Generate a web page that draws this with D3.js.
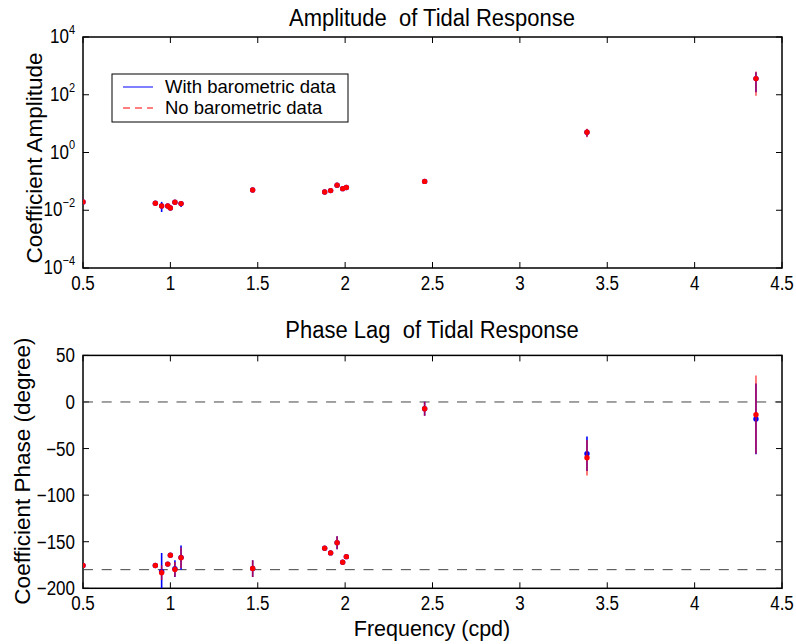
<!DOCTYPE html>
<html>
<head>
<meta charset="utf-8">
<script src="https://cdn.jsdelivr.net/npm/d3@7"></script>
<style>
body{margin:0;background:#fff;}
text{font-family:"Liberation Sans",Arial,sans-serif;fill:#000;white-space:pre;}
</style>
</head>
<body>
<script>

// data
var freq=[0.5,0.914,0.95,0.985,1.0,1.026,1.061,1.471,1.883,1.917,1.954,1.986,2.007,2.455,3.384,4.351];

var ampWith=[0.0195,0.0174,0.0141,0.0141,0.012,0.019,0.017,0.050,0.043,0.048,0.074,0.056,0.061,0.10,5.0,363];
var ampNo=[0.0195,0.0174,0.0141,0.0141,0.012,0.019,0.017,0.050,0.043,0.048,0.074,0.056,0.061,0.10,5.0,363];
var ampErrWith=[0.001,0.001,0.0054,0.001,0.001,0.001,0.004,0.002,0.002,0.002,0.003,0.002,0.002,0.004,1.4,240];
var ampErrNo=[0.001,0.001,0.002,0.001,0.001,0.001,0.002,0.002,0.002,0.002,0.003,0.002,0.002,0.004,1.6,270];

var phaseWith=[-175.4,-175.6,-182,-174,-164.6,-179,-167,-178.8,-157,-162,-151,-172,-166,-7.2,-55.5,-18.2];
var phaseNo=[-175.4,-175.6,-183.2,-174,-164.6,-179.7,-167.1,-178.8,-157,-162,-151,-172,-166,-7.2,-59.8,-13.6];
var phaseErrWith=[1.5,1.5,20,1.5,1.5,9,13,9,1.5,1.5,7,1.5,1.5,7.5,18.5,38];
var phaseErrNo=[1.5,1.5,8,1.5,1.5,8,11,9,1.5,1.5,7,1.5,1.5,7.5,19,42];

var xTicks=[0.5,1,1.5,2,2.5,3,3.5,4,4.5];
var ampTickExp=[-4,-2,0,2,4];
var phaseTicks=[-200,-150,-100,-50,0,50];
var refLines=[0,-180];

var legendItems=[{label:"With barometric data",color:"#0000ff",dash:null},
                 {label:"No barometric data",color:"#ff0000",dash:"7,5"}];

var W=796,H=644;
var left=83,right=782;

var svg=d3.select("body").append("svg").attr("width",W).attr("height",H);

var x=d3.scaleLinear().domain([0.5,4.5]).range([left,right]);
var yAmp=d3.scaleLog().domain([1e-4,1e4]).range([268,37]);
var yPh=d3.scaleLinear().domain([-200,50]).range([588.3,355.4]);

// text is narrow and tall in the original: font-size sets width, sy stretches it
var TICK=17,TICK_SY=1.15;

function label(g,px,py,str,size,sy,anchor,rot){
	return g.append("text")
		.attr("transform","translate("+px+","+py+")"+(rot?" rotate("+rot+")":"")+" scale(1,"+sy+")")
		.attr("text-anchor",anchor).style("font-size",size+"px").text(str);
}

function clip(id,y0,y1){
	svg.append("clipPath").attr("id",id).append("rect")
		.attr("x",left).attr("y",y0).attr("width",right-left).attr("height",y1-y0);
}
clip("cA",37,268);
clip("cP",355.4,588.3);

var tickLen=6;

function frame(yTop,yBot){
	var g=svg.append("g");
	xTicks.forEach(function(t){
		g.append("line").attr("x1",x(t)).attr("x2",x(t)).attr("y1",yBot).attr("y2",yBot-tickLen)
			.attr("stroke","#000");
		g.append("line").attr("x1",x(t)).attr("x2",x(t)).attr("y1",yTop).attr("y2",yTop+tickLen)
			.attr("stroke","#000");
		label(g,x(t),yBot+22,String(t),TICK,TICK_SY,"middle");
	});
	g.append("rect").attr("x",left).attr("y",yTop).attr("width",right-left).attr("height",yBot-yTop)
		.attr("fill","none").attr("stroke","#000").attr("stroke-width",1.5);
	return g;
}

// ---------- top: amplitude ----------
var gA=frame(37,268);
ampTickExp.forEach(function(e){
	var yy=yAmp(Math.pow(10,e));
	gA.append("line").attr("x1",left).attr("x2",left+tickLen).attr("y1",yy).attr("y2",yy).attr("stroke","#000");
	gA.append("line").attr("x1",right).attr("x2",right-tickLen).attr("y1",yy).attr("y2",yy).attr("stroke","#000");
	var t=gA.append("text")
		.attr("transform","translate(75,"+(yy+6)+") scale(1,"+TICK_SY+")")
		.attr("text-anchor","end").style("font-size",TICK+"px");
	t.append("tspan").text("10");
	t.append("tspan").attr("dy",-8).style("font-size","11px").text(e<0?"\u2212"+(-e):e);
});
label(svg,432,26,"Amplitude  of Tidal Response",22,1.1,"middle");
label(svg,42,158,"Coefficient Amplitude",22.5,1,"middle",-90);

function errSeries(g,ys,vals,errs,color,clipId,r,op,logScale){
	var s=g.append("g").attr("clip-path","url(#"+clipId+")");
	freq.forEach(function(f,i){
		var lo=vals[i]-errs[i],hi=vals[i]+errs[i];
		if(logScale && lo<=0) lo=vals[i]*0.5;
		s.append("line").attr("x1",x(f)).attr("x2",x(f)).attr("y1",ys(lo)).attr("y2",ys(hi))
			.attr("stroke",color).attr("stroke-width",1.6).attr("stroke-opacity",op);
	});
	s.selectAll("circle.d").data(freq).enter().append("circle")
		.attr("cx",function(d){return x(d);})
		.attr("cy",function(d,i){return ys(vals[i]);})
		.attr("r",r).attr("fill",color);
}

errSeries(svg,yAmp,ampWith,ampErrWith,"#0000ff","cA",2.7,1,true);
errSeries(svg,yAmp,ampNo,ampErrNo,"#ff0000","cA",2.7,0.65,true);

// legend
var lg=svg.append("g");
lg.append("rect").attr("x",112).attr("y",74).attr("width",236).attr("height",48)
	.attr("fill","#fff").attr("stroke","#000").attr("stroke-width",1);
legendItems.forEach(function(it,i){
	var yy=87+i*21;
	lg.append("line").attr("x1",123).attr("x2",153).attr("y1",yy).attr("y2",yy)
		.attr("stroke",it.color).attr("stroke-dasharray",it.dash);
	label(lg,165,yy+6,it.label,18.5,1,"start");
});

// ---------- bottom: phase ----------
var gP=frame(355.4,588.3);
phaseTicks.forEach(function(t){
	var yy=yPh(t);
	gP.append("line").attr("x1",left).attr("x2",left+tickLen).attr("y1",yy).attr("y2",yy).attr("stroke","#000");
	gP.append("line").attr("x1",right).attr("x2",right-tickLen).attr("y1",yy).attr("y2",yy).attr("stroke","#000");
	label(gP,75,yy+7,t<0?"\u2212"+(-t):String(t),TICK,TICK_SY,"end");
});
refLines.forEach(function(v){
	svg.append("line").attr("x1",left).attr("x2",right).attr("y1",yPh(v)).attr("y2",yPh(v))
		.attr("stroke","#444").attr("stroke-dasharray","10,8.7");
});
label(svg,432,338,"Phase Lag  of Tidal Response",22,1.1,"middle");
label(svg,30,471,"Coefficient Phase (degree)",22.5,1,"middle",-90);
label(svg,432,636,"Frequency (cpd)",21.5,1.02,"middle");

errSeries(svg,yPh,phaseWith,phaseErrWith,"#0000ff","cP",2.7,1,false);
errSeries(svg,yPh,phaseNo,phaseErrNo,"#ff0000","cP",2.7,0.65,false);

</script>
</body>
</html>
